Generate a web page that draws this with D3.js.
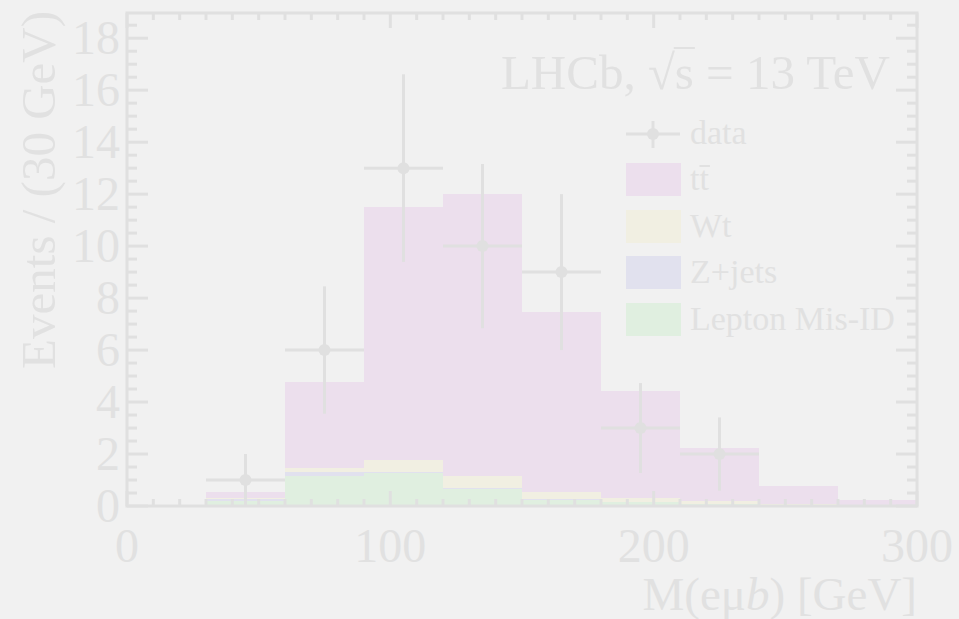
<!DOCTYPE html>
<html>
<head>
<meta charset="utf-8">
<script src="https://cdn.jsdelivr.net/npm/d3@7"></script>
<style>
  body { margin: 0; background: #f1f1f1; }
  svg { display: block; }
  text { font-family: "Liberation Serif", "DejaVu Serif", serif; fill: #e1e1e1; }
</style>
</head>
<body>
<svg id="chart" width="959" height="619"></svg>
<script>
// bins of 30 GeV
const binEdges = [0, 30, 60, 90, 120, 150, 180, 210, 240, 270, 300];

// stacked MC, bottom to top
const misID = [0.04, 0.20, 1.15, 1.28, 0.67, 0.25, 0.15, 0.08, 0.03, 0.01];
const zjets = [0.00, 0.08, 0.16, 0.03, 0.02, 0.02, 0.01, 0.01, 0.00, 0.00];
const wt    = [0.00, 0.02, 0.15, 0.45, 0.46, 0.27, 0.15, 0.11, 0.04, 0.01];
const ttbar = [0.00, 0.24, 3.31, 9.73, 10.85, 6.91, 4.10, 2.05, 0.71, 0.23];

// data points
const dataX   = [45, 75, 105, 135, 165, 195, 225];
const dataY   = [1, 6, 13, 10, 9, 3, 2];
const dataErr = [1.0, 2.45, 3.61, 3.16, 3.0, 1.73, 1.41];

const xTicks = [0, 100, 200, 300];
const yTicks = [0, 2, 4, 6, 8, 10, 12, 14, 16, 18];

const svg = d3.select('#chart');
const lineCol = '#e0e0e0';

const x = d3.scaleLinear().domain([0, 300]).range([127, 917]);
const y = d3.scaleLinear().domain([0, 18.97]).range([506, 13]);

// stack the components
const series = [
    {name: 'Lepton Mis-ID', vals: misID, color: '#e0efe0'},
    {name: 'Z+jets', vals: zjets, color: '#e1e1ee'},
    {name: 'Wt', vals: wt, color: '#f1efe2'},
    {name: 'ttbar', vals: ttbar, color: '#ecdfed'},
];
const rows = binEdges.slice(0, -1).map((lo, i) => {
    const r = {lo: lo, hi: binEdges[i + 1]};
    series.forEach(s => r[s.name] = s.vals[i]);
    return r;
});
const stack = d3.stack().keys(series.map(s => s.name))(rows);

const hist = svg.append('g');
stack.forEach((layer, k) => {
    hist.append('g')
        .attr('fill', series[k].color)
        .selectAll('rect')
        .data(layer)
        .join('rect')
        .attr('x', d => x(d.data.lo))
        .attr('width', d => x(d.data.hi) - x(d.data.lo))
        .attr('y', d => y(d[1]))
        .attr('height', d => Math.max(0, y(d[0]) - y(d[1])))
        .attr('shape-rendering', 'crispEdges');
});

// data with errors
const pts = dataX.map((v, i) => ({x: v, y: dataY[i], e: dataErr[i]}));
const dg = svg.append('g').attr('stroke', lineCol).attr('stroke-width', 3);
dg.selectAll('line.h')
    .data(pts)
    .join('line')
    .attr('x1', d => x(d.x - 15))
    .attr('x2', d => x(d.x + 15))
    .attr('y1', d => y(d.y))
    .attr('y2', d => y(d.y));
dg.selectAll('line.v')
    .data(pts)
    .join('line')
    .attr('x1', d => x(d.x))
    .attr('x2', d => x(d.x))
    .attr('y1', d => y(d.y + d.e))
    .attr('y2', d => y(Math.max(0, d.y - d.e)));
svg.append('g')
    .attr('fill', lineCol)
    .selectAll('circle')
    .data(pts)
    .join('circle')
    .attr('cx', d => x(d.x))
    .attr('cy', d => y(d.y))
    .attr('r', 6);

// frame and ticks
const ax = svg.append('g').attr('stroke', lineCol).attr('stroke-width', 3).attr('fill', 'none');
ax.append('rect')
    .attr('x', x(0)).attr('y', y.range()[1])
    .attr('width', x(300) - x(0)).attr('height', y(0) - y.range()[1]);

const xMinor = d3.range(0, 301, 10);
const yMinor = d3.range(0, 18.9, 0.5);
const tk = svg.append('g').attr('stroke', lineCol).attr('stroke-width', 3);
xMinor.forEach(v => {
    const len = v % 100 === 0 ? 15 : 7;
    tk.append('line').attr('x1', x(v)).attr('x2', x(v)).attr('y1', y(0)).attr('y2', y(0) - len);
    tk.append('line').attr('x1', x(v)).attr('x2', x(v)).attr('y1', y.range()[1]).attr('y2', y.range()[1] + len);
});
yMinor.forEach(v => {
    const len = v % 2 === 0 ? 21 : 10;
    tk.append('line').attr('x1', x(0)).attr('x2', x(0) + len).attr('y1', y(v)).attr('y2', y(v));
    tk.append('line').attr('x1', x(300)).attr('x2', x(300) - len).attr('y1', y(v)).attr('y2', y(v));
});

// tick labels
svg.append('g')
    .selectAll('text')
    .data(yTicks)
    .join('text')
    .attr('x', 120)
    .attr('y', d => y(d) + 16)
    .attr('text-anchor', 'end')
    .attr('font-size', 48)
    .text(d => d);
svg.append('g')
    .selectAll('text')
    .data(xTicks)
    .join('text')
    .attr('x', d => x(d))
    .attr('y', 562)
    .attr('text-anchor', 'middle')
    .attr('font-size', 48)
    .text(d => d);

// axis titles
const xt = svg.append('text')
    .attr('x', 917).attr('y', 610)
    .attr('text-anchor', 'end')
    .attr('font-size', 47);
xt.append('tspan').text('M(eμ');
xt.append('tspan').attr('font-style', 'italic').text('b');
xt.append('tspan').text(') [GeV]');

svg.append('text')
    .attr('transform', 'translate(55,11) rotate(-90)')
    .attr('text-anchor', 'end')
    .attr('font-size', 49)
    .text('Events / (30 GeV)');

// LHCb label, bar of the root drawn over the s
const lab = svg.append('text')
    .attr('x', 890).attr('y', 89)
    .attr('text-anchor', 'end')
    .attr('font-size', 49)
    .text('LHCb, √s = 13 TeV');
const ln = lab.node();
svg.append('line')
    .attr('x1', ln.getEndPositionOfChar(6).x - 1)
    .attr('x2', ln.getEndPositionOfChar(7).x + 1)
    .attr('y1', 89 - 41).attr('y2', 89 - 41)
    .attr('stroke', '#e1e1e1').attr('stroke-width', 2);

// legend
const legY = [134, 180, 227, 273, 320];
const leg = svg.append('g');
leg.append('line').attr('x1', 626).attr('x2', 680).attr('y1', legY[0]).attr('y2', legY[0])
    .attr('stroke', lineCol).attr('stroke-width', 3);
leg.append('line').attr('x1', 653).attr('x2', 653).attr('y1', legY[0] - 13).attr('y2', legY[0] + 14)
    .attr('stroke', lineCol).attr('stroke-width', 3);
leg.append('circle').attr('cx', 653).attr('cy', legY[0]).attr('r', 6).attr('fill', lineCol);
leg.append('text').attr('x', 690).attr('y', legY[0] + 10).attr('font-size', 34).text('data');

const legSeries = [series[3], series[2], series[1], series[0]];
legSeries.forEach((s, i) => {
    const cy = legY[i + 1];
    leg.append('rect').attr('x', 626).attr('y', cy - 17).attr('width', 55).attr('height', 33)
        .attr('fill', s.color);
    const t = leg.append('text').attr('x', 690).attr('y', cy + 10).attr('font-size', 34);
    if (s.name === 'ttbar') {
        t.text('tt');
        const tn = t.node();
        leg.append('line')
            .attr('x1', tn.getStartPositionOfChar(1).x)
            .attr('x2', tn.getEndPositionOfChar(1).x + 1)
            .attr('y1', cy + 10 - 24).attr('y2', cy + 10 - 24)
            .attr('stroke', '#e1e1e1').attr('stroke-width', 2);
    } else {
        t.text(s.name);
    }
});
</script>
</body>
</html>
